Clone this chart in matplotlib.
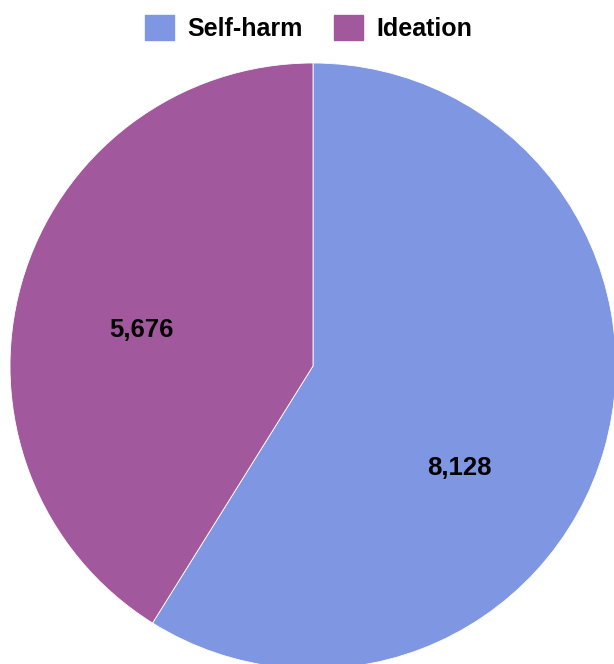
import numpy as np
import matplotlib
matplotlib.use("Agg")
import matplotlib.pyplot as plt
from matplotlib.patches import Patch

categories = ["Self-harm", "Ideation"]
values = [8128, 5676]
value_labels = ["8,128", "5,676"]
colors = ["#7F96E2", "#A1589D"]

plt.rcParams['font.family'] = ['Liberation Sans', 'DejaVu Sans']

W, H = 614, 664
fig = plt.figure(figsize=(W / 100, H / 100), dpi=100)
ax = fig.add_axes([0, 0, 1, 1])

R = 303.0
cx, cy = 313.0, 366.0  # pixel centre from top-left

wedges, _ = ax.pie(values, colors=colors, startangle=90, counterclock=False,
                   radius=1.0,
                   wedgeprops=dict(edgecolor="white", linewidth=0.6, antialiased=True))

ax.set_xlim(-cx / R, (W - cx) / R)
ax.set_ylim(-(H - cy) / R, cy / R)
ax.set_aspect("equal")
ax.axis("off")

# label placement (polar, in pie units)
label_pos = {"Self-harm": (-34.8, 0.587), "Ideation": (168.0, 0.578)}
for cat, lab in zip(categories, value_labels):
    ang, r = label_pos[cat]
    t = np.deg2rad(ang)
    ax.text(r * np.cos(t), r * np.sin(t), lab, ha="center", va="center",
            fontsize=18.5, fontweight="bold", color="black")

handles = [Patch(facecolor=c, edgecolor=c, label=l) for c, l in zip(colors, categories)]
leg = fig.legend(handles=handles, loc="center", bbox_to_anchor=(309 / W, 1 - 28 / H),
                 ncol=2, frameon=False, prop=dict(size=18, weight="bold"),
                 handlelength=1.15, handleheight=1.15, handletextpad=0.55,
                 columnspacing=1.25, borderpad=0)

fig.savefig("out.png", dpi=100)
